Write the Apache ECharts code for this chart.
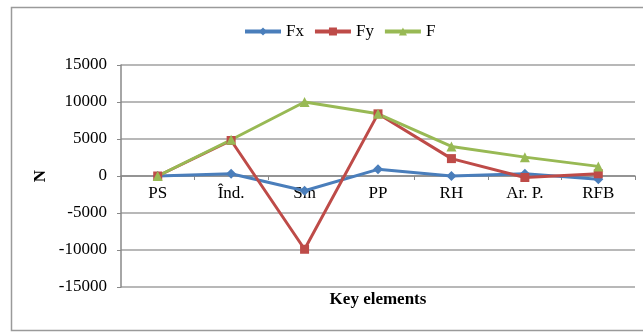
<!DOCTYPE html>
<html>
<head>
<meta charset="utf-8">
<script src="https://cdn.jsdelivr.net/npm/echarts@6/dist/echarts.min.js"></script>
<style>
  html, body { margin: 0; padding: 0; background: #fff; }
  #chart { width: 643px; height: 332px; }
</style>
</head>
<body>
<div id="chart"></div>
<script>
// Force components per key element (N)
const categories = ['PS', 'Înd.', 'Sm', 'PP', 'RH', 'Ar. P.', 'RFB'];
const fxValues = [0, 300, -2000, 900, 0, 300, -450];
const fyValues = [0, 4800, -9900, 8400, 2350, -200, 300];
const fValues = [0, 4900, 10000, 8400, 4000, 2550, 1300];
const yTicks = { min: -15000, max: 15000, interval: 5000 };

const font = '"Liberation Serif", "Times New Roman", serif';
const fontSize = 17;
const colors = { Fx: '#4a7ebb', Fy: '#be4b48', F: '#98b954' };
const chart = echarts.init(document.getElementById('chart'));

const gridTop = 65, gridBottom = 45, chartH = 332;
const plotH = chartH - gridTop - gridBottom;
// the category axis crosses the value axis at zero
const zeroOffset = -plotH * (0 - yTicks.min) / (yTicks.max - yTicks.min);

function lineSeries(name, data, symbol, size) {
  return {
    name, type: 'line', data,
    symbol, symbolSize: size,
    lineStyle: { width: 3, color: colors[name] },
    itemStyle: { color: colors[name] },
    emphasis: { disabled: true },
    animation: false
  };
}

chart.setOption({
  animation: false,
  textStyle: { fontFamily: font },
  grid: { left: 121, right: 8, top: gridTop, bottom: gridBottom },
  legend: {
    top: 18, left: 238,
    itemWidth: 36, itemHeight: 10, itemGap: 9,
    lineStyle: { width: 4 },
    textStyle: { fontFamily: font, fontSize, color: '#000' },
    data: ['Fx', 'Fy', 'F'].map(n => ({
      name: n,
      lineStyle: { width: 4, color: colors[n] },
      itemStyle: { color: colors[n] }
    }))
  },
  xAxis: {
    type: 'category',
    data: categories,
    boundaryGap: true,
    offset: zeroOffset,
    axisLine: { onZero: false, lineStyle: { color: '#888', width: 1.5 } },
    axisTick: { show: true, length: 4, lineStyle: { color: '#888' } },
    axisLabel: { fontFamily: font, fontSize, color: '#000', margin: 9 }
  },
  yAxis: {
    type: 'value',
    min: yTicks.min, max: yTicks.max, interval: yTicks.interval,
    name: 'N',
    nameLocation: 'middle',
    nameGap: 72,
    nameMoveOverlap: false,
    nameRotate: 90,
    nameTextStyle: { fontFamily: font, fontSize, fontWeight: 'bold', color: '#000' },
    axisLine: { show: true, lineStyle: { color: '#888', width: 1.5 } },
    axisTick: { show: true, length: 4, lineStyle: { color: '#888' } },
    axisLabel: {
      fontFamily: font, fontSize, color: '#000', margin: 14,
      formatter: v => String(v)
    },
    splitLine: { lineStyle: { color: '#a0a0a0', width: 1.5 } }
  },
  graphic: [
    {
      type: 'rect',
      shape: { x: 11.5, y: 7.5, width: 645, height: 323 },
      style: { fill: 'none', stroke: '#9a9a9a', lineWidth: 1.5 },
      silent: true
    },
    {
      type: 'text',
      x: 378, y: 300,
      style: {
        text: 'Key elements',
        font: 'bold ' + fontSize + 'px ' + font,
        fill: '#000',
        textAlign: 'center',
        textVerticalAlign: 'middle'
      }
    }
  ],
  series: [
    lineSeries('Fx', fxValues, 'diamond', 10),
    lineSeries('Fy', fyValues, 'rect', 9),
    lineSeries('F', fValues, 'triangle', 10)
  ]
});
</script>
</body>
</html>
